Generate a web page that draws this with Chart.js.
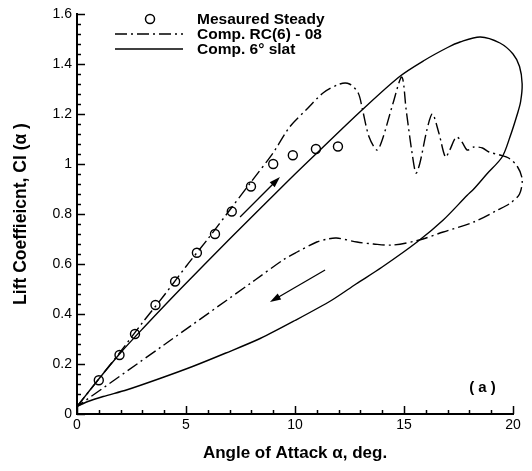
<!DOCTYPE html>
<html>
<head>
<meta charset="utf-8">
<script src="https://cdn.jsdelivr.net/npm/chart.js@4/dist/chart.umd.min.js"></script>
<style>
  html, body { margin: 0; padding: 0; background: #fff; }
  #c { display: block; }
</style>
</head>
<body>
<canvas id="c" width="532" height="471"></canvas>
<script>
// ---- Data ----
const measuredAlpha = [1.0, 1.95, 2.66, 3.6, 4.5, 5.5, 6.33, 7.1, 7.98, 9.0, 9.9, 10.96, 11.97];
const measuredCl    = [0.135, 0.236, 0.32, 0.436, 0.53, 0.645, 0.72, 0.81, 0.91, 1.0, 1.035, 1.06, 1.07];

const rcAlpha = [0, 1, 2, 3, 4, 5, 6, 7, 8, 9, 9.77, 10.55, 11.3, 12.06, 12.5, 12.9, 13.1, 13.4, 13.76, 14.0,
  14.5, 14.9, 15.1, 15.37, 15.55, 15.73, 16.05, 16.3, 16.6, 16.9, 17.1, 17.4, 17.66, 17.9, 18.2, 18.6, 18.9,
  19.4, 19.8, 20.2, 20.42, 20.3, 19.9, 19.3, 18.2, 16.8, 15.7, 14.5, 13.6, 12.84, 11.9, 11.5, 11.0, 10.1,
  9.45, 8.17, 4, 0];
const rcCl = [0.03, 0.14, 0.25, 0.365, 0.475, 0.59, 0.70, 0.815, 0.93, 1.045, 1.15, 1.22, 1.285, 1.32, 1.32,
  1.284, 1.216, 1.108, 1.056, 1.096, 1.244, 1.348, 1.216, 1.044, 0.964, 1.004, 1.136, 1.2, 1.124, 1.028,
  1.056, 1.108, 1.088, 1.056, 1.068, 1.064, 1.048, 1.036, 1.024, 0.99, 0.94, 0.88, 0.845, 0.816, 0.768,
  0.728, 0.696, 0.676, 0.68, 0.688, 0.704, 0.70, 0.688, 0.648, 0.616, 0.536, 0.277, 0.03];

const slatAlpha = [0, 1, 2, 3, 4.7, 7, 9.77, 11.15, 13, 14.8, 15.96, 17.0, 17.57, 18.5, 19.4, 20.0, 20.3,
  20.42, 20.35, 20.2, 19.86, 19.5, 18.8, 18.2, 17.9, 16.8, 15.6, 14.0, 12.8, 11.7, 10, 8.4, 6.8, 5.3, 3.8,
  2.3, 1.2, 0.5, 0];
const slatCl = [0.03, 0.14, 0.245, 0.34, 0.496, 0.70, 0.94, 1.056, 1.21, 1.35, 1.416, 1.466, 1.488, 1.508,
  1.484, 1.44, 1.39, 1.32, 1.25, 1.2, 1.108, 1.028, 0.96, 0.9, 0.875, 0.776, 0.688, 0.588, 0.52, 0.456,
  0.374, 0.302, 0.243, 0.19, 0.142, 0.097, 0.07, 0.05, 0.03];

const seriesNames = ['Mesaured Steady', 'Comp. RC(6) - 08', 'Comp. 6\u00B0 slat'];

// arrows: [tailAlpha, tailCl, headAlpha, headCl]
const arrowUp   = [7.48, 0.788, 9.31, 0.948];
const arrowDown = [11.38, 0.576, 8.85, 0.448];

const panelLabel = '( a )';
const panelLabelPos = [18.6, 0.104];

const xTicksMajor = [0, 5, 10, 15, 20];
const xTickLabels = ['0', '5', '10', '15', '20'];
const yTicksMajor = [0, 0.2, 0.4, 0.6, 0.8, 1.0, 1.2, 1.4, 1.6];
const yTickLabels = ['0', '0.2', '0.4', '0.6', '0.8', '1', '1.2', '1.4', '1.6'];

// ---- helpers ----
const pts = (xs, ys) => xs.map((x, i) => ({ x: x, y: ys[i] }));
const FONT = '"Liberation Sans", Arial, Helvetica, sans-serif';
const DASHDOT = [12, 4, 2, 4];

const decorPlugin = {
  id: 'decor',
  afterDraw(chart) {
    const ctx = chart.ctx;
    const xs = chart.scales.x, ys = chart.scales.y;
    const area = chart.chartArea;
    ctx.save();
    ctx.strokeStyle = '#000';
    ctx.fillStyle = '#000';
    // inward ticks
    ctx.lineWidth = 1.5;
    for (let v = 0; v <= 20.001; v += 1) {
      const px = Math.round(xs.getPixelForValue(v)) + 0.5;
      const major = Math.abs(v % 5) < 1e-6;
      const len = major ? 8 : 4;
      ctx.beginPath();
      ctx.moveTo(px, area.bottom);
      ctx.lineTo(px, area.bottom - len);
      ctx.stroke();
    }
    for (let i = 0; i <= 40; i++) {
      const v = i * 0.04;
      const py = Math.round(ys.getPixelForValue(v)) + 0.5;
      const major = i % 5 === 0;
      const len = major ? 8 : 4;
      ctx.beginPath();
      ctx.moveTo(area.left, py);
      ctx.lineTo(area.left + len, py);
      ctx.stroke();
    }
    // arrows
    const drawArrow = (a) => {
      const x1 = xs.getPixelForValue(a[0]), y1 = ys.getPixelForValue(a[1]);
      const x2 = xs.getPixelForValue(a[2]), y2 = ys.getPixelForValue(a[3]);
      const ang = Math.atan2(y2 - y1, x2 - x1);
      const hl = 11, hw = 3.5;
      ctx.lineWidth = 1.3;
      ctx.beginPath();
      ctx.moveTo(x1, y1);
      ctx.lineTo(x2 - Math.cos(ang) * hl * 0.6, y2 - Math.sin(ang) * hl * 0.6);
      ctx.stroke();
      ctx.beginPath();
      ctx.moveTo(x2, y2);
      ctx.lineTo(x2 - Math.cos(ang) * hl - Math.sin(ang) * hw, y2 - Math.sin(ang) * hl + Math.cos(ang) * hw);
      ctx.lineTo(x2 - Math.cos(ang) * hl + Math.sin(ang) * hw, y2 - Math.sin(ang) * hl - Math.cos(ang) * hw);
      ctx.closePath();
      ctx.fill();
    };
    drawArrow(arrowUp);
    drawArrow(arrowDown);
    // panel label
    ctx.font = 'bold 15px ' + FONT;
    ctx.textAlign = 'center';
    ctx.textBaseline = 'middle';
    ctx.fillText(panelLabel, xs.getPixelForValue(panelLabelPos[0]), ys.getPixelForValue(panelLabelPos[1]));
    // legend
    const lx0 = 115, lx1 = 183, tx = 197;
    const rows = [19, 34, 49];
    ctx.textAlign = 'left';
    ctx.font = 'bold 15.5px ' + FONT;
    ctx.lineWidth = 1.5;
    ctx.beginPath();
    ctx.arc(150, rows[0], 4.5, 0, Math.PI * 2);
    ctx.stroke();
    ctx.setLineDash(DASHDOT);
    ctx.beginPath();
    ctx.moveTo(lx0, rows[1]);
    ctx.lineTo(lx1, rows[1]);
    ctx.stroke();
    ctx.setLineDash([]);
    ctx.beginPath();
    ctx.moveTo(lx0, rows[2]);
    ctx.lineTo(lx1, rows[2]);
    ctx.stroke();
    seriesNames.forEach((n, i) => ctx.fillText(n, tx, rows[i] + 1));
    ctx.restore();
  }
};

const labelFor = (vals, labels) => (value) => {
  const i = vals.findIndex(v => Math.abs(v - value) < 1e-6);
  return i >= 0 ? labels[i] : '';
};

new Chart(document.getElementById('c'), {
  type: 'scatter',
  data: {
    datasets: [
      {
        label: seriesNames[0],
        data: pts(measuredAlpha, measuredCl),
        showLine: false,
        pointRadius: 4.5,
        pointBorderWidth: 1.4,
        pointBorderColor: '#000',
        pointBackgroundColor: 'rgba(255,255,255,0)',
        order: 0
      },
      {
        label: seriesNames[1],
        data: pts(rcAlpha, rcCl),
        showLine: true,
        borderColor: '#000',
        borderWidth: 1.4,
        borderDash: DASHDOT,
        pointRadius: 0,
        tension: 0.3,
        clip: false,
        order: 1
      },
      {
        label: seriesNames[2],
        data: pts(slatAlpha, slatCl),
        showLine: true,
        borderColor: '#000',
        borderWidth: 1.4,
        pointRadius: 0,
        tension: 0.3,
        clip: false,
        order: 2
      }
    ]
  },
  options: {
    responsive: false,
    animation: false,
    devicePixelRatio: 1,
    layout: { padding: { left: 0, top: 14, right: 19, bottom: 0 } },
    elements: { line: { capBezierPoints: false } },
    plugins: { legend: { display: false }, tooltip: { enabled: false } },
    scales: {
      x: {
        type: 'linear',
        min: 0, max: 20,
        afterBuildTicks: (s) => { s.ticks = xTicksMajor.map(v => ({ value: v })); },
        afterFit: (s) => { s.height = 57; },
        grid: { display: true, drawOnChartArea: false, drawTicks: false },
        border: { display: true, color: '#000', width: 2 },
        ticks: { color: '#000', padding: 3, font: { family: FONT, size: 14 },
                 callback: labelFor(xTicksMajor, xTickLabels) },
        title: {
          display: true,
          text: 'Angle of Attack \u03B1, deg.',
          color: '#000',
          font: { family: FONT, size: 17, weight: 'bold' },
          padding: { top: 0, bottom: 7 }
        }
      },
      y: {
        type: 'linear',
        min: 0, max: 1.6,
        afterBuildTicks: (s) => { s.ticks = yTicksMajor.map(v => ({ value: v })); },
        ticks: { color: '#000', padding: 5, font: { family: FONT, size: 14 },
                 callback: labelFor(yTicksMajor, yTickLabels) },
        afterFit: (s) => { s.width = 77; },
        grid: { display: true, drawOnChartArea: false, drawTicks: false },
        border: { display: true, color: '#000', width: 2 },
        title: {
          display: true,
          text: 'Lift Coeffieicnt, Cl (\u03B1 )',
          color: '#000',
          font: { family: FONT, size: 17.5, weight: 'bold' },
          padding: { top: 11, bottom: 0 }
        }
      }
    }
  },
  plugins: [decorPlugin]
});
</script>
</body>
</html>
